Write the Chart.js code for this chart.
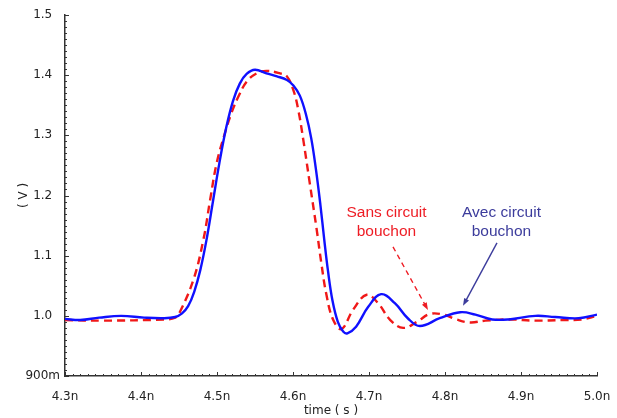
<!DOCTYPE html>
<html>
<head>
<meta charset="utf-8">
<script src="https://cdn.jsdelivr.net/npm/chart.js@4/dist/chart.umd.min.js"></script>
<style>
  html, body { margin: 0; padding: 0; background: #fff; }
  #wrap { width: 617px; height: 418px; }
</style>
</head>
<body>
<div id="wrap"><canvas id="chart"></canvas></div>
<script>
// time in ns, voltage in V
const blueTime = [4.300, 4.320, 4.345, 4.374, 4.404, 4.429, 4.445, 4.454, 4.462, 4.470, 4.478,
  4.486, 4.494, 4.503, 4.512, 4.521, 4.530, 4.539, 4.550, 4.565, 4.579, 4.592, 4.6005, 4.609,
  4.617, 4.624, 4.630, 4.636, 4.641, 4.646, 4.652, 4.659, 4.666, 4.6715, 4.683, 4.699, 4.716,
  4.734, 4.751, 4.767, 4.793, 4.820, 4.840, 4.862, 4.884, 4.919, 4.945, 4.976, 5.000];
const blueVolt = [0.995, 0.993, 0.997, 1.000, 0.997, 0.996, 0.998, 1.004, 1.016, 1.040, 1.076,
  1.125, 1.185, 1.253, 1.312, 1.357, 1.386, 1.402, 1.409, 1.403, 1.398, 1.392, 1.383, 1.366,
  1.335, 1.295, 1.245, 1.185, 1.128, 1.075, 1.025, 0.990, 0.974, 0.971, 0.982, 1.015, 1.036,
  1.021, 0.996, 0.983, 0.996, 1.006, 1.002, 0.994, 0.994, 1.000, 0.998, 0.996, 1.002];

const redTime = [4.300, 4.350, 4.430, 4.445, 4.451, 4.469, 4.482, 4.491, 4.4996, 4.5105, 4.519,
  4.528, 4.539, 4.552, 4.565, 4.583, 4.592, 4.6005, 4.607, 4.6136, 4.622, 4.631, 4.637,
  4.644, 4.653, 4.664, 4.679, 4.697, 4.712, 4.728, 4.745, 4.763, 4.780, 4.798, 4.815, 4.833,
  4.853, 4.884, 4.919, 4.954, 4.980, 5.000];
const redVolt = [0.993, 0.992, 0.994, 0.997, 1.006, 1.060, 1.126, 1.193, 1.254, 1.304, 1.337,
  1.364, 1.389, 1.403, 1.407, 1.403, 1.398, 1.375, 1.342, 1.292, 1.221, 1.145, 1.090,
  1.035, 0.993, 0.978, 1.010, 1.035, 1.021, 0.993, 0.980, 0.990, 1.003, 1.002, 0.994, 0.989,
  0.992, 0.994, 0.992, 0.993, 0.994, 1.000];

const xTicks = [4.3, 4.4, 4.5, 4.6, 4.7, 4.8, 4.9, 5.0];
const xTickLabels = ['4.3n', '4.4n', '4.5n', '4.6n', '4.7n', '4.8n', '4.9n', '5.0n'];
const yTicks = [0.9, 1.0, 1.1, 1.2, 1.3, 1.4, 1.5];
const yTickLabels = ['900m', '1.0', '1.1', '1.2', '1.3', '1.4', '1.5'];

// annotations, in data units (time ns, volt)
const noteText = [['Sans circuit', 'bouchon'], ['Avec circuit', 'bouchon']];
const noteAt = [[4.723, 1.1716], [4.8743, 1.1716]];
const arrowFrom = [[4.7316, 1.1146], [4.8684, 1.1213]];
const arrowTo = [[4.7776, 1.0096], [4.8237, 1.0166]];

const noteColors = ['#ee1c24', '#3c3c9c'];

function pairs(xs, ys) {
  return xs.map((x, i) => ({ x: x, y: ys[i] }));
}

function labelFor(list, labels, v) {
  const i = list.findIndex(t => Math.abs(t - v) < 1e-6);
  return i < 0 ? '' : labels[i];
}

// inward major / minor ticks
const innerTicks = {
  id: 'innerTicks',
  afterDraw(chart) {
    const ctx = chart.ctx;
    const xs = chart.scales.x, ys = chart.scales.y;
    const a = chart.chartArea;
    ctx.save();
    ctx.strokeStyle = '#333';
    ctx.lineWidth = 1;
    ctx.beginPath();
    for (let i = 0; i <= 70; i++) {
      const px = Math.round(xs.getPixelForValue(4.3 + i * 0.01)) + 0.5;
      const len = i % 10 === 0 ? 4 : 2;
      ctx.moveTo(px, a.bottom);
      ctx.lineTo(px, a.bottom - len);
    }
    for (let i = 0; i <= 60; i++) {
      const py = Math.round(ys.getPixelForValue(0.9 + i * 0.01)) + 0.5;
      const len = i % 10 === 0 ? 4 : 2;
      ctx.moveTo(a.left, py);
      ctx.lineTo(a.left + len, py);
    }
    ctx.stroke();
    ctx.restore();
  }
};

function arrow(ctx, x1, y1, x2, y2, color, dash) {
  const ang = Math.atan2(y2 - y1, x2 - x1);
  const hl = 8;
  ctx.save();
  ctx.strokeStyle = color;
  ctx.fillStyle = color;
  ctx.lineWidth = 1.4;
  ctx.setLineDash(dash);
  ctx.beginPath();
  ctx.moveTo(x1, y1);
  ctx.lineTo(x2 - Math.cos(ang) * 4, y2 - Math.sin(ang) * 4);
  ctx.stroke();
  ctx.setLineDash([]);
  ctx.beginPath();
  ctx.moveTo(x2, y2);
  ctx.lineTo(x2 - hl * Math.cos(ang - 0.35), y2 - hl * Math.sin(ang - 0.35));
  ctx.lineTo(x2 - hl * Math.cos(ang + 0.35), y2 - hl * Math.sin(ang + 0.35));
  ctx.closePath();
  ctx.fill();
  ctx.restore();
}

const notes = {
  id: 'notes',
  afterDatasetsDraw(chart) {
    const ctx = chart.ctx;
    const xs = chart.scales.x, ys = chart.scales.y;
    ctx.save();
    ctx.font = '15.5px "Liberation Sans", Arial, sans-serif';
    ctx.textAlign = 'center';
    ctx.textBaseline = 'middle';
    noteText.forEach((lines, k) => {
      const cx = xs.getPixelForValue(noteAt[k][0]);
      const cy = ys.getPixelForValue(noteAt[k][1]);
      ctx.fillStyle = noteColors[k];
      lines.forEach((t, j) => ctx.fillText(t, cx, cy + j * 19));
      arrow(ctx,
        xs.getPixelForValue(arrowFrom[k][0]), ys.getPixelForValue(arrowFrom[k][1]),
        xs.getPixelForValue(arrowTo[k][0]), ys.getPixelForValue(arrowTo[k][1]),
        noteColors[k], k === 0 ? [5, 4] : []);
    });
    ctx.restore();
  }
};

const axisFont = { family: '"DejaVu Sans", sans-serif', size: 12 };

new Chart(document.getElementById('chart'), {
  type: 'line',
  data: {
    datasets: [
      {
        label: 'Avec circuit bouchon',
        data: pairs(blueTime, blueVolt),
        borderColor: '#1010ff',
        borderWidth: 2.4,
        pointRadius: 0,
        tension: 0.4,
        fill: false
      },
      {
        label: 'Sans circuit bouchon',
        data: pairs(redTime, redVolt),
        borderColor: '#f01818',
        borderWidth: 2.4,
        borderDash: [8, 5],
        pointRadius: 0,
        tension: 0.4,
        fill: false
      }
    ]
  },
  options: {
    responsive: true,
    maintainAspectRatio: false,
    animation: false,
    events: [],
    layout: { padding: { top: 15, right: 20, left: 0, bottom: 0 } },
    plugins: {
      legend: { display: false },
      tooltip: { enabled: false }
    },
    scales: {
      x: {
        type: 'linear',
        min: 4.3,
        max: 5.0,
        afterBuildTicks: s => { s.ticks = xTicks.map(v => ({ value: v })); },
        afterFit: s => { s.height = 42; s.paddingLeft = 0; s.paddingRight = 0; },
        grid: { display: false, drawTicks: false },
        border: { display: true, color: '#333', width: 1.5 },
        ticks: {
          padding: 14,
          color: '#222',
          font: axisFont,
          maxRotation: 0,
          autoSkip: false,
          callback: v => labelFor(xTicks, xTickLabels, v)
        },
        title: { display: true, text: 'time ( s )', color: '#222', font: axisFont, padding: { top: 0, bottom: 0 } }
      },
      y: {
        type: 'linear',
        min: 0.9,
        max: 1.5,
        afterBuildTicks: s => { s.ticks = yTicks.map(v => ({ value: v })); },
        afterFit: s => { s.width = 65; s.paddingTop = 0; s.paddingBottom = 0; },
        grid: { display: false, drawTicks: false },
        border: { display: true, color: '#333', width: 1.5 },
        ticks: {
          padding: 5,
          crossAlign: 'center',
          color: '#222',
          font: axisFont,
          autoSkip: false,
          callback: v => labelFor(yTicks, yTickLabels, v)
        },
        title: { display: true, text: '( V )', color: '#222', font: axisFont, padding: { top: 17, bottom: 0 } }
      }
    }
  },
  plugins: [innerTicks, notes]
});
</script>
</body>
</html>
